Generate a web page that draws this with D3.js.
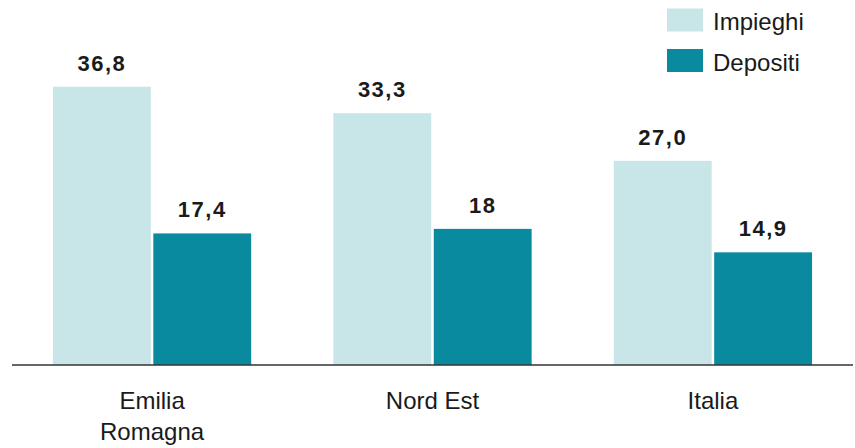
<!DOCTYPE html>
<meta charset="utf-8">
<style>
    body { margin: 0; background: #ffffff; }
    text { font-family: "Liberation Sans", Arial, sans-serif; fill: #1a1a1a; }
    .val { font-weight: bold; font-size: 22px; letter-spacing: 1.5px; }
    .cat { font-size: 24px; }
    .leg { font-size: 24px; }
</style>
<body>
<div id="chart"></div>
<script src="https://cdnjs.cloudflare.com/ajax/libs/d3/7.8.5/d3.min.js"></script>
<script>

    var categories = [["Emilia", "Romagna"], ["Nord Est"], ["Italia"]],
        series = ["Impieghi", "Depositi"],
        impieghi = [36.8, 33.3, 27.0],
        depositi = [17.4, 18, 14.9],
        impieghiLabels = ["36,8", "33,3", "27,0"],
        depositiLabels = ["17,4", "18", "14,9"];

    var colors = {Impieghi: "#c8e6e8", Depositi: "#0a8a9e"};

    var svg_dx = 855, svg_dy = 448,
        base_y = 365;

    var svg = d3.select("#chart")
                .append("svg")
                .attr("width", svg_dx)
                .attr("height", svg_dy);

    var catKeys = categories.map(c => c.join(" "));

    var x0 = d3.scaleBand()
               .domain(catKeys)
               .range([12, 853])
               .paddingInner(0.293)
               .paddingOuter(0.146);

    var x1 = d3.scaleBand()
               .domain(series)
               .range([0, x0.bandwidth()])
               .paddingInner(0.025);

    var y = d3.scaleLinear()
              .domain([0, 36.8])
              .range([base_y, 86.7]);

    var rows = catKeys.map((k, i) => ({
        key: k,
        lines: categories[i],
        vals: [
            {s: "Impieghi", v: impieghi[i], lab: impieghiLabels[i]},
            {s: "Depositi", v: depositi[i], lab: depositiLabels[i]}
        ]
    }));

    var groups = svg.append("g")
                    .selectAll("g")
                    .data(rows)
                    .enter()
                    .append("g")
                    .attr("transform", d => "translate(" + x0(d.key) + ",0)");

    groups.selectAll("rect")
          .data(d => d.vals)
          .enter()
          .append("rect")
          .attr("x", d => x1(d.s))
          .attr("y", d => y(d.v))
          .attr("width", x1.bandwidth())
          .attr("height", d => y(0) - y(d.v))
          .attr("fill", d => colors[d.s]);

    groups.selectAll("text.val")
          .data(d => d.vals)
          .enter()
          .append("text")
          .attr("class", "val")
          .attr("x", d => x1(d.s) + x1.bandwidth() / 2)
          .attr("y", d => y(d.v) - 16)
          .attr("text-anchor", "middle")
          .text(d => d.lab);

    // baseline
    svg.append("line")
       .attr("x1", 12)
       .attr("x2", 853)
       .attr("y1", y(0))
       .attr("y2", y(0))
       .attr("stroke", "#333333")
       .attr("stroke-width", 1.5);

    // category labels
    groups.append("text")
          .attr("class", "cat")
          .attr("text-anchor", "middle")
          .attr("x", x0.bandwidth() / 2)
          .attr("y", 409)
          .selectAll("tspan")
          .data(d => d.lines)
          .enter()
          .append("tspan")
          .attr("x", x0.bandwidth() / 2)
          .attr("dy", (d, i) => i == 0 ? 0 : 31)
          .text(d => d);

    // legend
    var legend = svg.append("g")
                    .selectAll("g")
                    .data(series)
                    .enter()
                    .append("g")
                    .attr("transform", (d, i) => "translate(667," + (8.5 + i * 40.5) + ")");

    legend.append("rect")
          .attr("width", 36)
          .attr("height", 23)
          .attr("fill", d => colors[d]);

    legend.append("text")
          .attr("class", "leg")
          .attr("x", 46)
          .attr("y", 21.5)
          .text(d => d);

</script>
</body>
